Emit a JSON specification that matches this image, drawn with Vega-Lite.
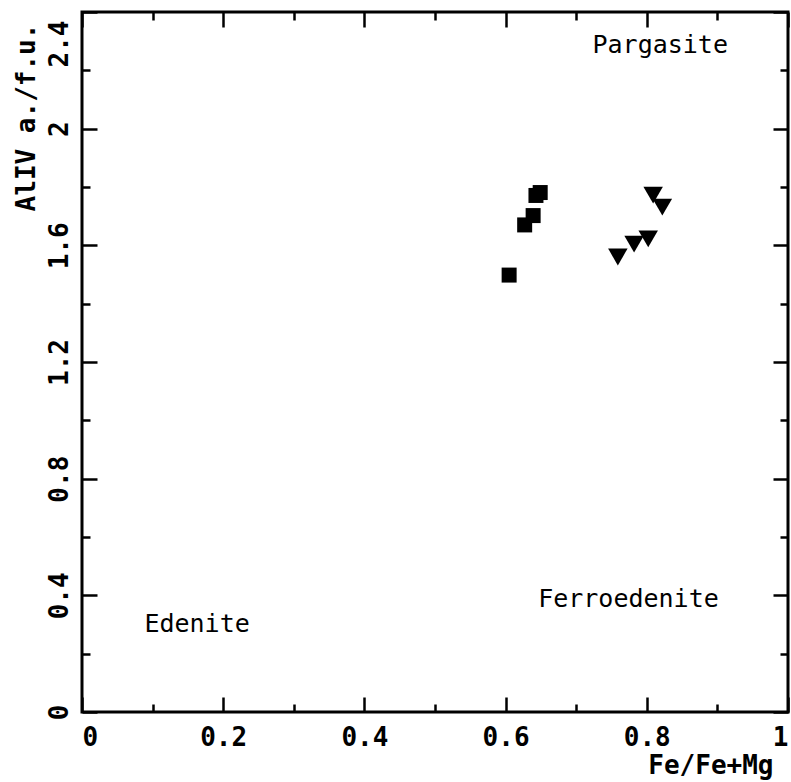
{
  "$schema": "https://vega.github.io/schema/vega-lite/v6.json",
  "width": 706,
  "height": 700,
  "autosize": {"type": "none"},
  "padding": {"left": 82, "top": 12, "right": 3, "bottom": 70},
  "background": "white",
  "config": {
    "view": {"stroke": "black", "strokeWidth": 3},
    "axis": {
      "grid": false,
      "domain": false,
      "tickColor": "black",
      "tickWidth": 2.5,
      "labelColor": "black",
      "labelFont": "DejaVu Sans Mono",
      "labelFontWeight": "bold",
      "labelFontSize": 26,
      "labelOverlap": false,
      "labelBound": false,
      "titleFont": "DejaVu Sans Mono",
      "titleFontSize": 26,
      "titleFontWeight": "bold",
      "titleColor": "black"
    }
  },
  "datasets": {
    "points": [
      {"fe": 0.605, "al": 1.498, "series": "square"},
      {"fe": 0.627, "al": 1.670, "series": "square"},
      {"fe": 0.639, "al": 1.702, "series": "square"},
      {"fe": 0.643, "al": 1.771, "series": "square"},
      {"fe": 0.649, "al": 1.781, "series": "square"},
      {"fe": 0.809, "al": 1.772, "series": "triangle"},
      {"fe": 0.822, "al": 1.731, "series": "triangle"},
      {"fe": 0.802, "al": 1.622, "series": "triangle"},
      {"fe": 0.782, "al": 1.604, "series": "triangle"},
      {"fe": 0.759, "al": 1.560, "series": "triangle"}
    ],
    "labels": [
      {"x": 0.819, "y": 2.287, "label": "Pargasite"},
      {"x": 0.163, "y": 0.302, "label": "Edenite"},
      {"x": 0.774, "y": 0.387, "label": "Ferroedenite"}
    ]
  },
  "layer": [
    {
      "data": {"name": "points"},
      "mark": {"type": "point", "filled": true, "opacity": 1, "color": "black", "strokeWidth": 0},
      "encoding": {
        "x": {
          "field": "fe", "type": "quantitative",
          "scale": {"domain": [0, 1], "nice": false, "zero": false},
          "axis": {
            "orient": "bottom",
            "values": [0, 0.1, 0.2, 0.3, 0.4, 0.5, 0.6, 0.7, 0.8, 0.9, 1],
            "tickSize": {"condition": {"test": "round(datum.value*10)%2==0", "value": -15}, "value": -8},
            "labelExpr": "round(datum.value*10)%2==0 ? format(datum.value,'~g') : ''",
            "labelFlush": true,
            "labelPadding": 27,
            "title": "Fe/Fe+Mg",
            "titleAnchor": "end",
            "titleAlign": "right",
            "titleBaseline": "top",
            "titleX": 691,
            "titleY": 40
          }
        },
        "y": {
          "field": "al", "type": "quantitative",
          "scale": {"domain": [0, 2.4], "nice": false, "zero": false},
          "axis": {
            "orient": "left",
            "values": [0, 0.2, 0.4, 0.6, 0.8, 1, 1.2, 1.4, 1.6, 1.8, 2, 2.2, 2.4],
            "tickSize": {"condition": {"test": "round(datum.value*5)%2==0", "value": -15}, "value": -8},
            "labelExpr": "round(datum.value*5)%2==0 ? format(datum.value,'~g') : ''",
            "labelAngle": 270,
            "labelAlign": {"condition": {"test": "datum.value > 2.3", "value": "right"}, "value": "center"},
            "labelOffset": {"condition": {"test": "datum.value > 2.3", "value": 8}, "value": 0},
            "labelBaseline": "bottom",
            "labelPadding": 25,
            "title": "AlIV a./f.u.",
            "titleAngle": 270,
            "titleAlign": "center",
            "titleBaseline": "middle",
            "titleX": -56,
            "titleY": 105
          }
        },
        "shape": {"field": "series", "type": "nominal", "scale": {"domain": ["square", "triangle"], "range": ["square", "triangle-down"]}, "legend": null},
        "size": {"field": "series", "type": "nominal", "scale": {"domain": ["square", "triangle"], "range": [225, 380]}, "legend": null}
      }
    },
    {
      "data": {"name": "labels"},
      "mark": {"type": "text", "font": "DejaVu Sans Mono", "fontSize": 25, "color": "black", "align": "center", "baseline": "middle"},
      "encoding": {
        "x": {
          "field": "x", "type": "quantitative",
          "scale": {"domain": [0, 1], "nice": false, "zero": false},
          "axis": {
            "orient": "top",
            "values": [0, 0.1, 0.2, 0.3, 0.4, 0.5, 0.6, 0.7, 0.8, 0.9, 1],
            "tickSize": {"condition": {"test": "round(datum.value*10)%2==0", "value": -15}, "value": -8},
            "labels": false,
            "title": null
          }
        },
        "y": {
          "field": "y", "type": "quantitative",
          "scale": {"domain": [0, 2.4], "nice": false, "zero": false},
          "axis": {
            "orient": "right",
            "values": [0, 0.2, 0.4, 0.6, 0.8, 1, 1.2, 1.4, 1.6, 1.8, 2, 2.2, 2.4],
            "tickSize": {"condition": {"test": "round(datum.value*5)%2==0", "value": -15}, "value": -8},
            "labels": false,
            "title": null
          }
        },
        "text": {"field": "label"}
      }
    }
  ],
  "resolve": {"axis": {"x": "independent", "y": "independent"}}
}
